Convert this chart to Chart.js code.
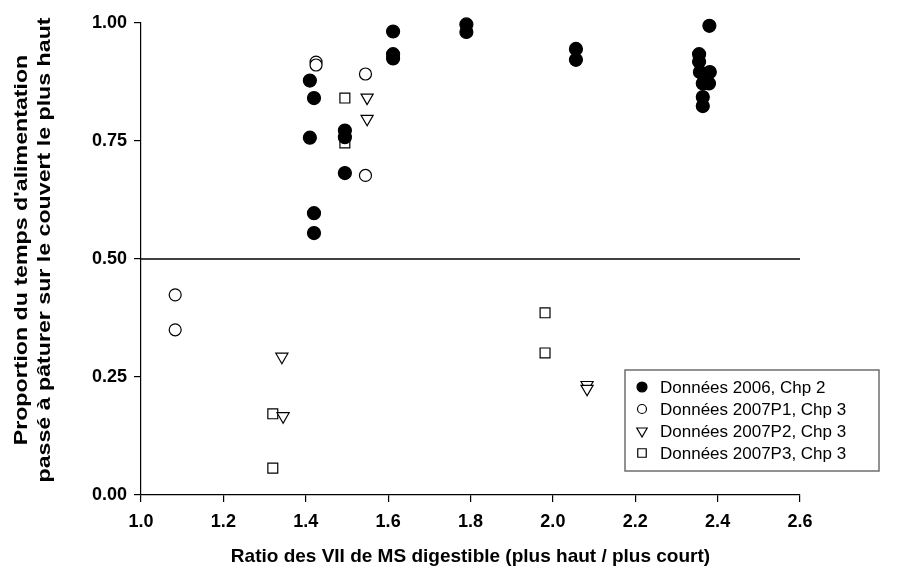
<!DOCTYPE html>
<html>
<head>
<meta charset="utf-8">
<script src="https://cdn.jsdelivr.net/npm/chart.js@4"></script>
<style>
  html, body { margin: 0; padding: 0; background: #fff; }
</style>
</head>
<body>
<canvas id="chart" width="900" height="584"></canvas>
<script>
const seriesLabels = ['Données 2006, Chp 2', 'Données 2007P1, Chp 3', 'Données 2007P2, Chp 3', 'Données 2007P3, Chp 3'];

// Données 2006, Chp 2 (filled circles)
const x2006 = [1.41, 1.41, 1.42, 1.42, 1.42, 1.495, 1.495, 1.495, 1.612, 1.612, 1.612, 1.79, 1.79, 2.056, 2.056,
               2.355, 2.355, 2.357, 2.364, 2.364, 2.364, 2.38, 2.381, 2.379];
const y2006 = [0.878, 0.757, 0.841, 0.597, 0.555, 0.772, 0.758, 0.682, 0.982, 0.934, 0.925, 0.997, 0.981, 0.945, 0.922,
               0.934, 0.918, 0.896, 0.872, 0.843, 0.824, 0.994, 0.896, 0.872];

// Données 2007P1, Chp 3 (open circles)
const x2007P1 = [1.083, 1.083, 1.425, 1.425, 1.545, 1.545];
const y2007P1 = [0.424, 0.350, 0.917, 0.911, 0.892, 0.677];

// Données 2007P2, Chp 3 (triangles down)
const x2007P2 = [1.342, 1.345, 1.549, 1.549, 2.083, 2.083];
const y2007P2 = [0.293, 0.167, 0.842, 0.797, 0.233, 0.225];

// Données 2007P3, Chp 3 (open squares)
const x2007P3 = [1.32, 1.32, 1.495, 1.495, 1.981, 1.981];
const y2007P3 = [0.172, 0.057, 0.841, 0.746, 0.386, 0.301];

const refLineX = [1.0, 2.6];
const refLineY = [0.5, 0.5];

const xTitle = 'Ratio des VII de MS digestible (plus haut / plus court)';
const yTitle = ["Proportion du temps d'alimentation", 'passé à pâturer sur le couvert le plus haut'];

const fontFamily = '"Liberation Sans", Arial, sans-serif';

function toPoints(xs, ys) {
    return xs.map((x, i) => ({ x: x, y: ys[i] }));
}

const markerStyles = [
    { pointStyle: 'circle', radius: 6.5, rotation: 0, fill: '#000' },
    { pointStyle: 'circle', radius: 6, rotation: 0, fill: '#fff' },
    { pointStyle: 'triangle', radius: 7, rotation: 180, fill: '#fff' },
    { pointStyle: 'rect', radius: 7, rotation: 0, fill: '#fff' }
];
const legendStyles = [
    { pointStyle: 'circle', radius: 5, rotation: 0, fill: '#000' },
    { pointStyle: 'circle', radius: 4.5, rotation: 0, fill: '#fff' },
    { pointStyle: 'triangle', radius: 6, rotation: 180, fill: '#fff' },
    { pointStyle: 'rect', radius: 6, rotation: 0, fill: '#fff' }
];

function scatterSet(i, xs, ys) {
    const m = markerStyles[i];
    return {
        label: seriesLabels[i],
        data: toPoints(xs, ys),
        showLine: false,
        clip: false,
        pointStyle: m.pointStyle,
        pointRotation: m.rotation,
        pointRadius: m.radius,
        pointHoverRadius: m.radius,
        pointBackgroundColor: m.fill,
        pointBorderColor: '#000',
        pointBorderWidth: 1.2
    };
}

// legend box sits partly outside the plot area, so draw it by hand
const boxLegend = {
    id: 'boxLegend',
    afterDraw(chart) {
        const ctx = chart.ctx;
        ctx.save();
        ctx.strokeStyle = '#6e6e6e';
        ctx.lineWidth = 1.5;
        ctx.fillStyle = '#fff';
        ctx.fillRect(625, 370, 254, 101);
        ctx.strokeRect(625, 370, 254, 101);
        ctx.font = '17px ' + fontFamily;
        ctx.textBaseline = 'middle';
        seriesLabels.forEach((label, i) => {
            const y = 387 + i * 22;
            const m = legendStyles[i];
            ctx.fillStyle = m.fill;
            ctx.strokeStyle = '#000';
            ctx.lineWidth = 1.2;
            Chart.helpers.drawPoint(ctx, { pointStyle: m.pointStyle, radius: m.radius, rotation: m.rotation, borderWidth: 1.2 }, 642, y);
            ctx.fillStyle = '#000';
            ctx.fillText(label, 660, y + 1);
        });
        ctx.restore();
    }
};

// y title: two lines, stretched along the text like in the original export
const yTitlePlugin = {
    id: 'yTitlePlugin',
    afterDraw(chart) {
        const ctx = chart.ctx;
        const mid = (chart.chartArea.top + chart.chartArea.bottom) / 2 - 9;
        ctx.save();
        ctx.font = 'bold 19px ' + fontFamily;
        ctx.fillStyle = '#000';
        ctx.textAlign = 'center';
        ctx.textBaseline = 'middle';
        yTitle.forEach((line, i) => {
            ctx.save();
            ctx.translate(22 + i * 23, mid);
            ctx.rotate(-Math.PI / 2);
            ctx.scale(1.22, 1);
            ctx.fillText(line, 0, 0);
            ctx.restore();
        });
        ctx.restore();
    }
};

const datasets = [
    {
        label: 'ref',
        data: toPoints(refLineX, refLineY),
        showLine: true,
        borderColor: '#000',
        borderWidth: 1.3,
        pointRadius: 0,
        pointHoverRadius: 0
    },
    scatterSet(0, x2006, y2006),
    scatterSet(1, x2007P1, y2007P1),
    scatterSet(2, x2007P2, y2007P2),
    scatterSet(3, x2007P3, y2007P3)
];

const boldTick = { family: fontFamily, size: 18, weight: 'bold' };
const boldTitle = { family: fontFamily, size: 19, weight: 'bold' };

new Chart(document.getElementById('chart').getContext('2d'), {
    type: 'scatter',
    data: { datasets: datasets },
    options: {
        responsive: false,
        animation: false,
        devicePixelRatio: 1,
        layout: { padding: { top: 23, right: 100, bottom: 0, left: 0 } },
        plugins: { legend: { display: false }, tooltip: { enabled: false } },
        scales: {
            x: {
                type: 'linear',
                min: 1.0,
                max: 2.6,
                afterFit: s => { s.height = 89; },
                ticks: { stepSize: 0.2, color: '#000', font: boldTick, padding: 9, callback: v => v.toFixed(1) },
                grid: { drawOnChartArea: false, drawTicks: true, tickLength: 7, color: '#000', lineWidth: 1.2 },
                border: { color: '#000', width: 1.2 },
                title: { display: true, text: xTitle, color: '#000', font: boldTitle, padding: { top: 12, bottom: 16 } }
            },
            y: {
                type: 'linear',
                min: 0,
                max: 1,
                afterFit: s => { s.width = 141; },
                ticks: { stepSize: 0.25, color: '#000', font: boldTick, padding: 7, callback: v => v.toFixed(2) },
                grid: { drawOnChartArea: false, drawTicks: true, tickLength: 7, color: '#000', lineWidth: 1.2 },
                border: { color: '#000', width: 1.2 },
                title: { display: false }
            }
        }
    },
    plugins: [boxLegend, yTitlePlugin]
});
</script>
</body>
</html>
